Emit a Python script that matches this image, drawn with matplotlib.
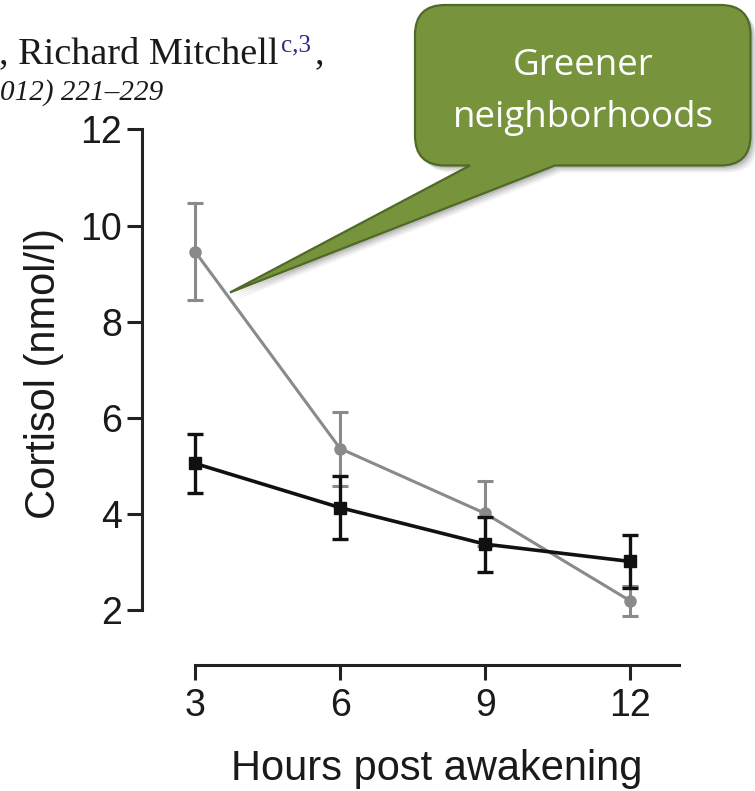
import numpy as np
import matplotlib
matplotlib.use("Agg")
import matplotlib.pyplot as plt
from matplotlib.path import Path
from matplotlib.patches import PathPatch

# data
hours = [3, 6, 9, 12]
greener_mean = [9.46, 5.36, 4.01, 2.19]
greener_err = [1.0, 0.77, 0.68, 0.31]
other_mean = [5.05, 4.13, 3.37, 3.01]
other_err = [0.62, 0.65, 0.57, 0.56]

y_ticks = [2, 4, 6, 8, 10, 12]
x_ticks = [3, 6, 9, 12]

W, H = 755, 791
fig = plt.figure(figsize=(W / 100, H / 100), dpi=100)

# main axes (GraphPad style, offset spines)
ax = fig.add_axes([142 / W, 1 - 665 / H, (680 - 142) / W, (665 - 129.5) / H])
ax.set_xlim(1.903, 13.03)
ax.set_ylim(0.855, 12.0)

ax.errorbar(hours, greener_mean, yerr=greener_err, color="#8a8a8a", lw=2.2,
            marker="o", ms=8, elinewidth=2.2, capsize=5.5, capthick=2.2,
            clip_on=False, zorder=3)
ax.errorbar(hours, other_mean, yerr=other_err, color="#111111", lw=2.6,
            marker="s", ms=9, elinewidth=2.4, capsize=5.5, capthick=2.4,
            clip_on=False, zorder=4)

for s in ["top", "right"]:
    ax.spines[s].set_visible(False)
ax.spines["left"].set_bounds(2, 12)
ax.spines["bottom"].set_bounds(3, 13)
ax.spines["left"].set_linewidth(2.2)
ax.spines["bottom"].set_linewidth(2.2)
ax.spines["left"].set_color("#222222")
ax.spines["bottom"].set_color("#222222")

ax.set_yticks(y_ticks)
ax.set_xticks(x_ticks)
ax.tick_params(axis="both", length=10.5, width=2.2, color="#222222",
               labelsize=27, labelcolor="#1a1a1a")
ax.tick_params(axis="y", pad=4)
ax.tick_params(axis="x", pad=6)
for lab in ax.get_xticklabels() + ax.get_yticklabels():
    lab.set_fontfamily("Liberation Sans")
ax.patch.set_alpha(0)

fig.text(44 / W, 1 - 373.5 / H, "Cortisol (nmol/l)", rotation=90,
         ha="center", va="center", fontsize=30, family="Liberation Sans",
         color="#1a1a1a")
fig.text(437 / W, 1 - 780 / H, "Hours post awakening", ha="center",
         va="baseline", fontsize=30, family="Liberation Sans", color="#1a1a1a")

# overlay in pixel coordinates for header and callout
ov = fig.add_axes([0, 0, 1, 1])
ov.set_xlim(0, W)
ov.set_ylim(H, 0)
ov.axis("off")
ov.patch.set_alpha(0)

name = ov.text(-1, 63, ", Richard Mitchell", fontsize=27.5, family="Liberation Serif",
               va="baseline", ha="left", color="#1a1a1a")
ov.text(0, 100, "012) 221\u2013229", fontsize=21, family="Liberation Serif",
        style="italic", va="baseline", ha="left", color="#1a1a1a")

# put the superscript right after the name
fig.canvas.draw()
x_end = name.get_window_extent().x1
sup = ov.text(x_end + 3, 51, "c,3", fontsize=18, family="Liberation Serif",
              va="baseline", ha="left", color="#2b2b86")
fig.canvas.draw()
ov.text(sup.get_window_extent().x1 + 3, 63, ",", fontsize=27.5,
        family="Liberation Serif", va="baseline", ha="left", color="#1a1a1a")


def callout_path(x0, y0, x1, y1, r, b1, b2, tip):
    verts = [(x0 + r, y0), (x1 - r, y0), (x1, y0), (x1, y0 + r),
             (x1, y1 - r), (x1, y1), (x1 - r, y1),
             (b2, y1), tip, (b1, y1),
             (x0 + r, y1), (x0, y1), (x0, y1 - r),
             (x0, y0 + r), (x0, y0), (x0 + r, y0), (x0 + r, y0)]
    codes = [Path.MOVETO, Path.LINETO, Path.CURVE3, Path.CURVE3,
             Path.LINETO, Path.CURVE3, Path.CURVE3,
             Path.LINETO, Path.LINETO, Path.LINETO,
             Path.LINETO, Path.CURVE3, Path.CURVE3,
             Path.LINETO, Path.CURVE3, Path.CURVE3, Path.CLOSEPOLY]
    return Path(verts, codes)


box = dict(x0=415, y0=5, x1=750.5, y1=165.5, r=30, b1=470, b2=555, tip=(230, 292.5))

# soft shadow
for d, a in [(7, 0.05), (5.5, 0.06), (4, 0.08), (2.5, 0.10)]:
    b = dict(box)
    b["x0"] += d; b["x1"] += d; b["y0"] += d; b["y1"] += d
    b["b1"] += d; b["b2"] += d
    b["tip"] = (box["tip"][0] + d, box["tip"][1] + d)
    ov.add_patch(PathPatch(callout_path(**b), facecolor="black", edgecolor="none",
                           alpha=a, zorder=5))

ov.add_patch(PathPatch(callout_path(**box), facecolor="#77933c", edgecolor="#4f6a28",
                       lw=1.6, zorder=6))
ov.text(583, 75, "Greener", fontsize=26.5, family="Open Sans", color="white",
        ha="center", va="baseline", zorder=7)
ov.text(583, 126.7, "neighborhoods", fontsize=26.5, family="Open Sans", color="white",
        ha="center", va="baseline", zorder=7)

fig.savefig("out.png", dpi=100)
